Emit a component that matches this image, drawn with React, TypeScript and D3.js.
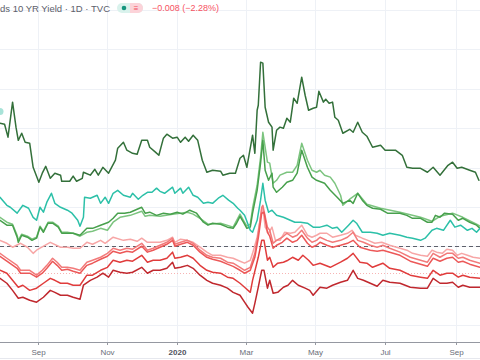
import React from "react";
import * as d3 from "d3";

// Day offsets since 2019-07-30, value = % change vs. comparison start
const DARK_GREEN: [number, number][] = [[0,62.5],[4,62],[7,55.4],[11,73.2],[14,60.5],[16,53.8],[19,57.4],[22,52.8],[26,52.3],[29,40.1],[34,32.5],[37,37.1],[40,40.6],[44,34.5],[48,37.1],[53,36.1],[54,33],[61,33],[64,35.6],[67,33],[72,34.5],[73,37.6],[79,36.1],[83,39.1],[86,36.1],[90,40.1],[95,37.1],[101,43.7],[103,49.8],[108,52.8],[111,48.8],[116,47.2],[120,46.7],[124,53.8],[129,53.8],[131,50.3],[136,47.8],[139,46.2],[143,54.9],[146,56.9],[151,54.9],[155,55.4],[158,52.8],[162,55.4],[165,53.3],[169,56.4],[173,53.8],[177,43.7],[181,37.6],[186,38.6],[193,38.1],[195,36.1],[201,37.1],[206,37.1],[210,44.7],[213,46.2],[216,40.1],[221,56.4],[223,47.2],[225,69.1],[226,71.6],[228,93.5],[230,93],[232,70.6],[235,63],[238,60.5],[239,48.8],[242,58.9],[245,60.5],[248,59.9],[251,65],[254,63],[257,75.2],[260,72.6],[264,85.9],[267,76.7],[270,69.1],[274,70.1],[277,70.6],[279,78.7],[283,73.2],[285,74.7],[288,72.6],[291,73.2],[293,65.5],[296,64],[300,57.4],[306,59.4],[309,57.9],[313,63],[317,57.9],[321,55.9],[326,50.3],[333,51.3],[337,48.8],[346,48.8],[352,46.2],[356,40.1],[361,39.6],[368,39.6],[374,37.6],[379,40.1],[385,36.1],[392,41.1],[396,42.7],[400,39.6],[404,40.1],[411,38.6],[416,37.6],[419,33.5]];

const LIGHT_GREEN: [number, number][] = [[0,14.7],[6,12.2],[11,11.2],[15,5.6],[16,3],[19,6.1],[24,5.1],[28,3.6],[32,4.6],[35,10.2],[38,7.6],[42,12.2],[46,12.2],[51,10.2],[54,7.1],[59,7.1],[64,6.6],[70,5.1],[76,7.1],[81,7.6],[88,9.1],[94,8.1],[99,12.2],[105,14.7],[114,15.7],[124,17.8],[127,15.2],[131,15.7],[140,15.2],[151,16.3],[164,17.3],[169,16.3],[175,14.2],[182,11.2],[193,11.7],[204,9.7],[210,16.3],[213,13.2],[216,10.2],[219,11.2],[221,19.3],[225,31],[228,45.2],[230,57.9],[234,42.7],[236,42.2],[239,32],[242,33.5],[245,36.1],[251,37.6],[256,37.6],[260,41.1],[264,52.3],[269,43.7],[273,38.6],[277,37.6],[280,38.6],[284,36.1],[289,35.1],[293,32],[298,25.9],[300,20.8],[306,23.9],[313,26.9],[321,21.3],[333,19.3],[350,17.3],[368,14.7],[378,12.7],[385,15.2],[396,16.8],[405,14.7],[417,11.2],[420,10.2]];

const GREEN: [number, number][] = [[0,13.2],[6,10.7],[11,10.7],[15,4.6],[16,2],[19,5.6],[24,4.6],[28,3],[32,4.1],[35,9.7],[38,7.1],[42,11.7],[46,11.7],[51,9.7],[54,6.6],[59,6.6],[64,6.6],[70,5.6],[76,9.1],[81,9.1],[88,10.7],[95,12.2],[99,14.2],[103,16.8],[109,16.8],[114,17.3],[118,18.3],[124,19.8],[127,16.8],[131,17.3],[137,15.7],[143,16.8],[149,16.3],[155,17.3],[160,16.3],[166,18.3],[172,16.8],[178,12.2],[182,10.7],[186,11.7],[193,11.2],[199,9.7],[204,9.1],[207,11.7],[210,15.2],[213,12.2],[216,9.1],[219,9.7],[221,16.8],[225,28.4],[228,42.2],[230,53.8],[232,38.6],[235,33.5],[238,37.1],[239,30],[242,27.4],[247,30],[251,32.5],[256,33.5],[260,37.1],[264,48.8],[269,40.1],[273,35.1],[277,33.5],[284,32],[289,28.4],[295,24.9],[300,21.8],[306,23.4],[309,21.8],[313,26.9],[317,23.4],[321,20.8],[326,19.3],[333,18.8],[339,16.8],[344,16.8],[350,16.8],[356,15.7],[361,14.2],[368,14.2],[374,12.2],[378,12.2],[381,15.7],[385,14.7],[389,16.8],[396,16.3],[401,13.2],[405,14.2],[411,12.2],[417,10.7],[420,9.1]];

const TEAL: [number, number][] = [[0,24.9],[6,20.8],[9,19.8],[15,16.8],[20,20.8],[25,19.3],[29,14.7],[32,13.2],[35,19.8],[38,17.3],[41,22.4],[45,26.9],[48,21.8],[53,19.8],[59,18.3],[63,16.8],[68,13.2],[70,10.2],[73,14.7],[74,24.9],[79,24.4],[85,25.9],[88,21.8],[92,24.9],[95,21.8],[99,26.9],[103,28.4],[108,25.9],[114,24.9],[116,26.9],[121,23.9],[125,25.9],[129,27.4],[133,27.4],[137,29.5],[140,27.9],[144,26.9],[151,30],[153,26.9],[158,29.5],[160,26.9],[165,30],[169,25.9],[173,24.9],[178,21.8],[182,22.4],[186,21.8],[191,24.4],[195,25.9],[200,23.4],[204,21.8],[208,19.3],[210,18.3],[214,15.7],[219,8.1],[221,7.1],[225,13.2],[228,23.4],[230,32],[232,23.4],[235,17.3],[238,18.3],[242,15.7],[248,14.7],[254,13.2],[258,12.2],[263,12.2],[269,11.7],[274,9.7],[280,9.7],[286,10.7],[291,9.1],[295,9.7],[299,7.1],[305,10.7],[309,13.2],[312,11.7],[317,7.1],[324,7.1],[330,6.6],[335,5.6],[341,6.6],[350,5.6],[356,4.6],[361,4.1],[368,3],[372,4.1],[378,8.1],[382,9.1],[388,8.1],[394,13.2],[398,9.7],[403,10.7],[409,8.1],[413,9.1],[417,7.1],[420,9.1]];

const LIGHT_PINK: [number, number][] = [[0,3],[6,1.5],[11,-0.5],[18,1.5],[24,-0.5],[29,-3.6],[32,-2],[35,-1],[44,2],[53,-0.5],[59,-0.5],[64,-1],[70,-1],[76,2],[81,1],[88,3],[92,1.5],[99,4.6],[108,3],[114,3.6],[120,2.5],[124,4.1],[129,2],[134,2],[140,2],[146,3],[151,4.6],[153,2],[158,3.6],[164,3],[169,2],[175,-0.5],[181,-3],[186,-4.6],[193,-4.6],[199,-5.6],[204,-6.1],[210,-7.6],[214,-8.6],[219,-7.1],[221,-3.6],[225,4.6],[228,14.7],[230,19.8],[232,9.7],[235,6.6],[238,9.7],[241,3],[245,3],[249,7.1],[254,6.6],[258,7.1],[264,10.7],[269,5.6],[273,4.6],[277,5.6],[280,6.6],[286,6.6],[291,4.6],[298,5.6],[304,6.6],[308,8.1],[311,5.6],[317,4.1],[322,3],[328,1.5],[334,2],[341,0.5],[350,-1],[356,-2],[361,-3.6],[368,-4.6],[374,-5.1],[378,-2],[382,-3],[387,-3.6],[391,-1.5],[396,-2],[400,-4.6],[404,-3.6],[409,-4.6],[414,-5.6],[420,-6.1]];

const SALMON: [number, number][] = [[0,-3.6],[6,-6.1],[15,-9.7],[18,-12.2],[26,-12.2],[32,-14.7],[37,-12.2],[41,-9.7],[46,-6.1],[50,-8.1],[54,-10.7],[59,-10.7],[64,-11.2],[70,-12.2],[76,-8.1],[81,-7.1],[88,-5.6],[94,-3.6],[99,-1],[105,-2],[111,-1],[116,-1.5],[124,1.5],[129,-2],[134,-1],[140,0.5],[146,2],[151,4.1],[153,1],[158,2],[164,3],[169,1.5],[175,-2],[181,-4.6],[186,-5.6],[193,-6.1],[199,-8.1],[204,-8.6],[210,-10.7],[214,-12.2],[219,-10.7],[223,-3.6],[226,6.6],[229,19.8],[230,20.8],[234,9.7],[236,8.1],[239,1.5],[242,3],[247,4.6],[251,6.6],[256,4.6],[260,5.6],[264,8.1],[269,4.1],[273,2],[277,3],[280,4.6],[286,3],[291,2],[298,3],[304,4.6],[309,7.1],[313,3],[318,2],[324,0.5],[330,-0.5],[335,0.5],[341,-1],[350,-3],[359,-5.6],[368,-7.1],[374,-8.1],[379,-3.6],[385,-5.6],[391,-3.6],[396,-3.6],[401,-6.1],[405,-5.6],[411,-7.1],[420,-8.6]];

const CORAL: [number, number][] = [[0,-5.1],[6,-7.6],[15,-11.2],[18,-13.7],[26,-13.7],[32,-15.7],[37,-13.7],[41,-11.2],[46,-7.6],[50,-9.7],[54,-12.2],[59,-11.7],[64,-12.7],[70,-13.7],[76,-9.7],[81,-8.6],[88,-6.6],[94,-5.1],[99,-2.5],[105,-3.6],[111,-2.5],[116,-3],[124,0],[129,-3],[134,-2],[140,-0.5],[146,1],[151,3],[153,0],[158,1],[164,2],[169,0.5],[175,-3],[181,-5.6],[186,-6.6],[193,-7.6],[199,-9.1],[204,-10.2],[210,-12.2],[214,-13.7],[219,-12.2],[223,-5.6],[226,4.1],[229,16.8],[231,17.3],[234,7.1],[236,5.1],[239,-1],[242,0.5],[247,2],[251,4.1],[256,2],[260,3],[264,5.6],[269,1.5],[273,-0.5],[277,0.5],[280,2],[286,0.5],[291,-0.5],[298,0.5],[304,1.5],[309,3],[315,-0.5],[324,-2],[330,-2.5],[335,-2],[341,-3],[350,-4.6],[359,-7.6],[368,-9.1],[374,-10.2],[379,-6.1],[385,-7.6],[391,-6.1],[396,-5.6],[401,-8.1],[405,-7.6],[411,-9.1],[420,-10.7]];

const RED: [number, number][] = [[0,-12.2],[6,-13.7],[11,-17.3],[16,-20.8],[20,-19.8],[26,-22.4],[32,-21.3],[38,-18.8],[44,-16.3],[48,-17.3],[53,-18.8],[59,-18.8],[64,-19.8],[70,-19.8],[76,-14.7],[81,-14.7],[88,-12.2],[94,-10.7],[99,-7.1],[105,-8.1],[111,-7.1],[116,-7.6],[124,-4.6],[129,-8.1],[134,-7.1],[140,-7.1],[146,-6.1],[151,-3],[153,-6.1],[158,-5.6],[164,-4.6],[169,-6.1],[175,-9.7],[181,-12.2],[186,-13.2],[193,-13.7],[199,-15.7],[204,-16.3],[210,-18.8],[214,-20.8],[219,-23.4],[221,-17.3],[226,-5.6],[229,3],[231,3],[234,-7.1],[236,-5.6],[239,-10.7],[243,-8.6],[248,-8.1],[252,-7.1],[256,-5.6],[261,-7.1],[265,-4.6],[270,-7.1],[274,-9.7],[280,-8.6],[289,-10.7],[298,-8.1],[304,-6.1],[309,-3.6],[315,-8.1],[321,-8.6],[326,-10.7],[335,-8.6],[341,-11.2],[350,-12.2],[359,-14.7],[368,-15.7],[374,-16.3],[379,-12.2],[385,-14.7],[391,-13.7],[396,-13.7],[401,-15.7],[405,-14.7],[411,-15.7],[420,-16.3]];

const DARK_RED: [number, number][] = [[0,-16.3],[6,-18.8],[11,-22.4],[16,-26.4],[20,-25.9],[26,-27.4],[32,-28.4],[38,-25.9],[44,-22.4],[48,-23.4],[53,-24.9],[59,-24.9],[64,-25.9],[70,-26.9],[73,-19.8],[79,-17.3],[85,-15.7],[90,-13.7],[95,-15.7],[99,-12.2],[105,-13.2],[111,-13.7],[116,-13.2],[124,-10.7],[129,-13.7],[134,-12.2],[140,-12.2],[146,-11.2],[151,-8.1],[153,-11.2],[158,-10.7],[164,-9.7],[169,-11.2],[175,-14.7],[181,-17.3],[186,-18.8],[193,-19.8],[199,-21.3],[204,-23.4],[210,-24.9],[214,-28.4],[217,-31],[221,-34],[223,-29],[226,-20.8],[229,-12.2],[231,-12.2],[234,-21.3],[236,-17.3],[239,-23.9],[243,-23.4],[248,-20.8],[252,-19.8],[256,-17.3],[261,-19.8],[267,-21.3],[271,-22.4],[274,-24.9],[280,-20.8],[286,-21.3],[291,-19.8],[298,-18.3],[304,-17.3],[309,-12.2],[313,-16.3],[318,-17.3],[324,-18.8],[330,-20.3],[335,-17.3],[341,-18.3],[350,-18.8],[359,-20.8],[368,-21.3],[374,-21.3],[379,-16.3],[385,-18.8],[391,-18.8],[396,-18.3],[401,-20.8],[405,-19.8],[411,-20.8],[420,-20.8]];

const SERIES_NAMES = ["Dark green", "Light green", "Green", "Teal", "Light pink", "Salmon", "Coral", "Red", "Dark red"];
const SERIES_DATA = [DARK_GREEN, LIGHT_GREEN, GREEN, TEAL, LIGHT_PINK, SALMON, CORAL, RED, DARK_RED];
const SERIES_COLORS = ["#33703a", "#7cc47f", "#47a04c", "#2cc0a8", "#f7a6a6", "#f27a7a", "#ec5858", "#e03c3c", "#c0282e"];

const GRID_VALUES = [-40, -20, 0, 20, 40, 60, 80, 100, 120];
const PRICE_LINE = -13.7;
const MARKER_VALUE = 68.5;
const TITLE = "ds 10 YR Yield · 1D · TVC";
const CHANGE_TEXT = "−0.008 (−2.28%)";

const START = new Date(2019, 6, 30);
const SPAN_DAYS = 420;
const W = 480;
const H = 360;
const AXIS_Y = 342;

export default function App() {
  const toDate = (d: number) => d3.timeDay.offset(START, d);
  const x = d3.scaleTime().domain([START, toDate(SPAN_DAYS)]).range([0, W]);
  const y = d3.scaleLinear().domain([-40, 120]).range([325, 10]);
  const line = d3
    .line<[number, number]>()
    .x((p) => x(toDate(p[0])))
    .y((p) => y(p[1]));
  const ticks = x.ticks(d3.timeMonth.every(2) as any);
  const fmt = (d: Date) => (d.getMonth() === 0 ? d3.timeFormat("%Y")(d) : d3.timeFormat("%b")(d));
  const font = "'Liberation Sans', Arial, sans-serif";

  return (
    <svg width={W} height={H} style={{ position: "absolute", left: 0, top: 0, background: "#fff" }}>
      <rect x={0} y={0} width={W} height={H} fill="#ffffff" />
      {/* grid */}
      {GRID_VALUES.map((v) => (
        <line key={"h" + v} x1={0} x2={W} y1={Math.round(y(v)) + 0.5} y2={Math.round(y(v)) + 0.5} stroke="#eef1f6" strokeWidth={1} />
      ))}
      {ticks.map((t, i) => (
        <line key={"v" + i} x1={Math.round(x(t)) + 0.5} x2={Math.round(x(t)) + 0.5} y1={0} y2={AXIS_Y} stroke="#eef1f6" strokeWidth={1} />
      ))}
      {/* baseline */}
      <line x1={0} x2={W} y1={Math.round(y(0)) + 0.5} y2={Math.round(y(0)) + 0.5} stroke="#5d606b" strokeWidth={1} strokeDasharray="4 3" />
      <line x1={0} x2={W} y1={Math.round(y(PRICE_LINE)) + 0.5} y2={Math.round(y(PRICE_LINE)) + 0.5} stroke="#f7b4b4" strokeWidth={1} strokeDasharray="1 2" />
      {/* series */}
      {SERIES_DATA.map((data, i) => (
        <path key={SERIES_NAMES[i]} d={line(data) || ""} fill="none" stroke={SERIES_COLORS[i]} strokeWidth={1.5} strokeLinejoin="round" strokeLinecap="round" />
      ))}
      <circle cx={0} cy={y(MARKER_VALUE)} r={3.5} fill="#a8e3d8" />
      {/* axis */}
      <rect x={0} y={AXIS_Y} width={W} height={H - AXIS_Y} fill="#ffffff" />
      <line x1={0} x2={W} y1={AXIS_Y + 0.5} y2={AXIS_Y + 0.5} stroke="#9598a1" strokeWidth={1} />
      <line x1={0} x2={W} y1={H - 1.5} y2={H - 1.5} stroke="#e6e8ee" strokeWidth={1} />
      {ticks.map((t, i) => (
        <g key={"t" + i} transform={`translate(${Math.round(x(t)) + 0.5},0)`}>
          <line y1={AXIS_Y} y2={AXIS_Y + 3} stroke="#9598a1" />
          <text y={355} textAnchor="middle" fontSize={8} fontFamily={font} fill={t.getMonth() === 0 ? "#50535e" : "#6a6d78"} fontWeight={t.getMonth() === 0 ? "bold" : "normal"}>
            {fmt(t)}
          </text>
        </g>
      ))}
      {/* legend header */}
      <text x={0} y={11.5} fontSize={9.5} fontFamily={font} fill="#5d606b">{TITLE}</text>
      <rect x={117} y={3} width={26} height={10} rx={5} fill="#d9f2ec" />
      <path d="M130,3 H138 A5,5 0 0 1 138,13 H130 Z" fill="#fcd3d9" />
      <circle cx={124} cy={8} r={2.3} fill="#14967e" />
      <text x={136} y={10.5} textAnchor="middle" fontSize={8} fontFamily={font} fill="#f2495c">≡</text>
      <text x={152} y={11} fontSize={9} fontFamily={font} fill="#f7525f">{CHANGE_TEXT}</text>
    </svg>
  );
}
